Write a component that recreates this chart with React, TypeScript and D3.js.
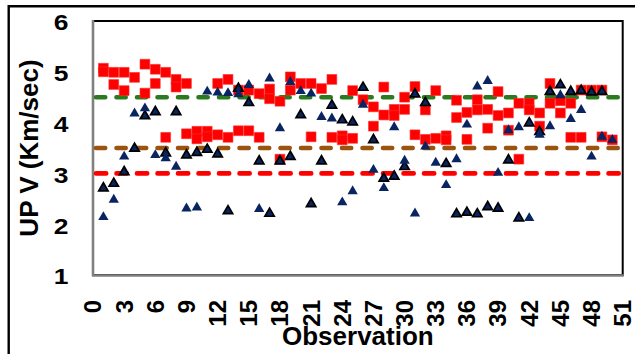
import React from "react";
import * as d3 from "d3";

const W = 635;
const H = 354;

// y tick labels and x tick labels
const yTicks = [1, 2, 3, 4, 5, 6];
const xTicks = d3.range(0, 52, 3);

// Reference (dashed) levels
const refLevels = [4.5, 3.5, 3.0];
const refColors = ["#2B7A1F", "#9B5410", "#FF0000"];

// Red squares: values for observation 1..50 (may be several per observation)
const squareVals: number[][] = [
  [5.07, 5.0], [4.99, 4.75], [4.99, 4.63], [4.89], [5.15, 4.58],
  [5.05, 4.77], [4.99, 3.71], [4.85, 4.7], [4.77, 3.78], [3.83, 3.68],
  [3.83, 3.72], [4.77, 3.76], [4.85, 3.71], [4.64, 3.84], [4.64, 3.84],
  [4.57, 3.71], [4.66, 4.47], [4.42, 3.28], [4.9, 4.64], [4.77],
  [4.77, 3.72], [4.67], [4.85, 3.71], [3.74, 3.66], [4.63, 3.69],
  [4.45], [4.31, 3.93], [4.7, 4.15], [4.26, 4.14], [4.5, 4.26],
  [4.71, 3.76], [4.25, 3.67], [4.63, 3.69], [3.74, 3.66], [4.44, 4.1],
  [4.2, 3.67], [4.45, 4.25], [4.26, 3.89], [4.61, 4.14], [4.19, 3.85],
  [4.38, 3.28], [4.38, 4.25], [4.19, 3.93], [4.77, 4.38], [4.43, 4.19],
  [4.38, 3.71], [4.64, 3.71], [4.64], [4.64, 3.72], [3.66],
];

// Navy triangles (no outline), observation 1..50
const navyVals: number[] = [
  2.14, 2.48, 3.33, 4.18, 4.28, 3.36, 3.3, 3.13, 2.31, 2.33,
  4.61, 4.59, 4.58, 4.56, 4.74, 2.3, 4.87, 3.89, 4.8, 4.62,
  4.57, 4.11, 4.08, 2.43, 2.65, 4.35, 3.07, 2.71, 3.91, 3.25,
  2.21, 3.53, 3.21, 2.77, 3.28, 3.96, 4.71, 4.82, 3.01, 3.85,
  3.91, 2.12, 3.76, 3.93, 4.54, 4.07, 4.25, 3.33, 3.72, 3.66,
];

// Black-outlined triangles, observation 1..50 (null = not visible)
const blackVals: (number | null)[] = [
  2.71, 2.8, 3.03, 3.49, 4.13, 4.21, 3.4, 4.21, 3.36, 3.41,
  3.47, 3.38, 2.26, 4.67, 4.39, 3.24, 2.21, 3.24, 3.33, 4.15,
  2.4, 3.24, 4.34, 4.05, 4.01, 4.69, 3.66, 2.9, 2.94, 3.13,
  4.56, 4.39, null, 3.19, 2.2, 2.23, 2.2, 2.34, 2.31, 3.26,
  2.12, 3.99, 3.82, 4.61, 4.74, 4.61, 4.63, 4.6, 4.61, null,
];

const FONT = "'Liberation Sans', Arial, sans-serif";
const NAVY = "#0A2461";

export default function App() {
  const left = 93;
  const right = 622.7;
  const top = 21;
  const bottom = 275;

  const x = d3.scaleLinear().domain([0, 51]).range([left, right]);
  const y = d3.scaleLinear().domain([1, 6]).range([bottom, top]);

  const tri = d3.symbol().type(d3.symbolTriangle).size(46)() as string;
  const triB = d3.symbol().type(d3.symbolTriangle).size(38)() as string;
  const sq = d3.symbol().type(d3.symbolSquare).size(96)() as string;

  const squares: { o: number; v: number }[] = [];
  squareVals.forEach((vals, i) => vals.forEach((v) => squares.push({ o: i + 1, v })));

  return (
    <svg
      width={W}
      height={H}
      style={{ position: "absolute", left: 0, top: 0, background: "#fff" }}
    >
      <rect x={0} y={0} width={W} height={H} fill="#fff" />
      {/* outer frame */}
      <path d={`M8.7,${H + 5} V6.2 H${W + 5}`} fill="none" stroke="#000" strokeWidth={2.4} />

      {/* plot border */}
      <rect x={left} y={top} width={right - left} height={bottom - top} fill="#fff" stroke="#000" strokeWidth={2} />
      <line x1={left} x2={left} y1={top - 1} y2={bottom + 1} stroke="#808080" strokeWidth={2.6} />
      <line x1={left - 1} x2={right + 1} y1={bottom + 0.5} y2={bottom + 0.5} stroke="#808080" strokeWidth={2.4} />

      {/* reference dashed lines */}
      {refLevels.map((lv, i) => (
        <line
          key={lv}
          x1={x(0) + 3}
          x2={x(51) - 4}
          y1={y(lv)}
          y2={y(lv)}
          stroke={refColors[i]}
          strokeWidth={4.6}
          strokeLinecap="round"
          strokeDasharray={i === 2 ? "10.2 10.3" : "9.2 11.3"}
        />
      ))}

      {/* red squares */}
      {squares.map((d, i) => (
        <path key={"s" + i} d={sq} transform={`translate(${x(d.o)},${y(d.v)})`} fill="#FF0000" stroke="#FF2a2a" strokeWidth={0.6} />
      ))}

      {/* black outlined triangles */}
      {blackVals.map((v, i) =>
        v == null ? null : (
          <path key={"b" + i} d={triB} transform={`translate(${x(i + 1)},${y(v)})`} fill={NAVY} stroke="#000" strokeWidth={1.7} strokeLinejoin="miter" />
        )
      )}

      {/* navy triangles */}
      {navyVals.map((v, i) => (
        <path key={"n" + i} d={tri} transform={`translate(${x(i + 1)},${y(v)})`} fill={NAVY} />
      ))}

      {/* y tick labels */}
      {yTicks.map((t) => (
        <text
          key={t}
          transform={`translate(68.5,${y(t) + 9.3}) scale(1.2,1)`}
          textAnchor="end"
          fontFamily={FONT}
          fontWeight="bold"
          fontSize={22}
          fill="#000"
        >
          {t}
        </text>
      ))}

      {/* x tick labels */}
      {xTicks.map((t) => (
        <text
          key={t}
          transform={`translate(${x(t)},300) rotate(-90)`}
          textAnchor="end"
          dy="0.35em"
          fontFamily={FONT}
          fontWeight="bold"
          fontSize={24}
          fill="#000"
        >
          {t}
        </text>
      ))}

      {/* axis titles */}
      <text
        x={(left + right) / 2}
        y={345}
        textAnchor="middle"
        fontFamily={FONT}
        fontWeight="bold"
        fontSize={26}
        fill="#000"
      >
        Observation
      </text>
      <text
        transform={`translate(37.5,${(top + bottom) / 2}) rotate(-90)`}
        textAnchor="middle"
        fontFamily={FONT}
        fontWeight="bold"
        fontSize={26}
        fill="#000"
      >
        UP V (Km/sec)
      </text>
    </svg>
  );
}
